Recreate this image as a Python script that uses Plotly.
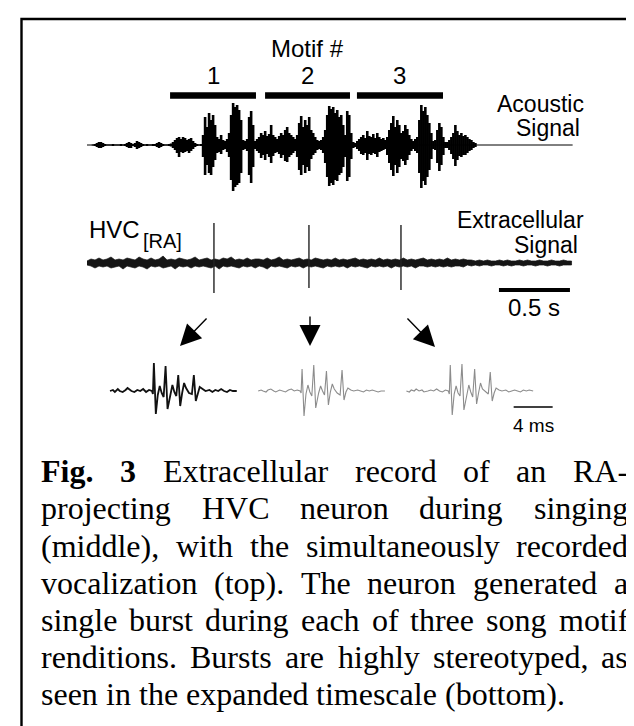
import plotly.graph_objects as go

W, H = 634, 726

# ------------------------------------------------------------------ data
# Acoustic signal, drawn as a min/max waveform (one column per display sample)
acoustic_t0_s = 0.042
acoustic_dt_s = 0.0141
acoustic_duration_s = 3.42
acoustic_max = [0.5, 1, 2, 3, 3, 2, 1, 0.5,
                0.5, 0.5, 1, 0.5, 0.5, 0.5, 1, 0.5,
                1, 2, 3, 2, 1, 2, 4, 3, 2, 1,
                0.5, 1, 0.5, 0.5, 1,
                1, 2, 3, 2, 1,
                0.5, 0.5, 1, 1.5,
                3, 5, 7, 8, 6, 8, 7, 5, 6, 7, 4, 2,
                1, 0.5, 1,
                10, 28, 18, 32, 25, 30, 20,
                8, 6, 10, 5, 4, 6, 12,
                30, 42, 38, 40, 35, 25,
                5, 4, 6,
                28, 34, 20,
                4, 6,
                8, 12, 10, 14, 9, 11, 20, 10, 8, 6, 9, 12, 10, 15, 18, 12, 10, 8, 6,
                10, 22, 29, 18, 25, 20, 28, 15, 12, 8, 5,
                4, 5, 8,
                15, 30, 39, 36, 38, 32, 35, 28, 30, 20, 10,
                34, 30, 12,
                3, 2, 4,
                6, 8, 10, 7, 14, 9, 8, 11, 7, 12, 8, 6, 7, 5,
                8, 15, 22, 29, 18, 25, 20, 12, 14, 20, 16, 10, 6,
                4, 6, 8,
                25, 40, 34, 38, 30, 22, 12,
                4, 5,
                15, 22, 18, 8,
                3, 3, 5,
                8, 12, 20, 14, 10, 12, 9, 10, 8, 6, 5, 3, 2]
acoustic_min = [0.5, 1, 2, 3, 3, 2, 1, 0.5,
                0.5, 0.5, 1, 0.5, 0.5, 0.5, 1, 0.5,
                1, 2, 3, 3, 1, 2, 4, 3, 2, 1,
                0.5, 1, 0.5, 0.5, 1,
                1, 2, 3, 2, 1,
                0.5, 0.5, 1, 1.5,
                3, 5, 8, 12, 7, 8, 7, 6, 8, 6, 4, 2,
                1, 0.5, 1,
                12, 30, 20, 28, 30, 22, 15,
                8, 7, 9, 5, 4, 7, 12,
                35, 46, 42, 40, 38, 28,
                5, 4, 6,
                30, 38, 22,
                4, 6,
                8, 13, 10, 15, 9, 12, 18, 11, 8, 7, 9, 13, 10, 16, 17, 12, 10, 8, 6,
                12, 25, 30, 20, 28, 22, 26, 14, 10, 8, 5,
                4, 5, 8,
                18, 32, 41, 38, 40, 35, 36, 30, 28, 22, 12,
                36, 32, 14,
                3, 2, 4,
                6, 9, 10, 8, 15, 9, 10, 8, 9, 12, 7, 6, 5, 4,
                10, 18, 25, 31, 20, 28, 22, 14, 16, 20, 15, 10, 6,
                4, 6, 8,
                28, 43, 36, 40, 32, 25, 14,
                4, 5,
                18, 26, 20, 10,
                3, 3, 5,
                9, 14, 21, 15, 11, 12, 10, 10, 8, 6, 5, 3, 2]

motif_labels = ["1", "2", "3"]
motif_start_s = [0.585, 1.254, 1.901]
motif_end_s = [1.190, 1.852, 2.507]

# Extracellular signal: noise envelope, upper and lower edge (a.u.), plus spikes
extra_env_dt_s = 0.0282
extra_env_up = [2, 4, 3, 5, 3, 4, 6, 3, 4, 3, 5, 4, 3, 6, 4, 3, 5, 3, 4, 7,
                3, 4, 3, 5, 4, 3, 4, 6, 3, 4, 5, 3, 4, 3, 5, 4, 6, 3, 4, 3,
                5, 3, 4, 4, 3, 5, 3, 4, 6, 3, 4, 3, 4, 5, 3, 4, 3, 5, 4, 3,
                4, 3, 5, 3, 4, 3, 4, 5, 3, 4, 3, 4, 3, 5, 3, 4, 3, 4, 3, 5,
                3, 4, 3, 4, 5, 3, 4, 3, 4, 3, 5, 3, 4, 3, 4, 3, 3, 2, 3, 2,
                3, 2, 2, 3, 2, 3, 2, 2, 3, 2, 3, 2, 2, 3, 2, 2, 3, 2, 2, 3,
                2, 2]
extra_env_down = [2, 3, 5, 3, 4, 3, 5, 4, 3, 6, 3, 4, 5, 3, 4, 6, 3, 4, 3, 5,
                  4, 3, 6, 3, 4, 3, 5, 3, 4, 3, 4, 5, 3, 6, 3, 4, 3, 4, 5, 3,
                  4, 3, 5, 3, 4, 6, 3, 4, 3, 4, 5, 3, 4, 3, 5, 3, 4, 3, 4, 5,
                  3, 4, 3, 4, 3, 5, 3, 4, 3, 4, 5, 3, 4, 3, 4, 3, 5, 3, 4, 3,
                  4, 3, 5, 3, 3, 4, 3, 4, 3, 4, 3, 4, 3, 3, 4, 2, 3, 2, 3, 2,
                  2, 3, 2, 2, 3, 2, 3, 2, 2, 3, 2, 2, 3, 2, 2, 3, 2, 2, 3, 2,
                  2, 2]
spike_times_s = [0.894, 1.563, 2.211]
spike_peak = [40, 38, 38]
spike_trough = [-30, -25, -27]
sec_bar_len_s = 0.5
sec_bar_start_s = 2.901

# Bursts on the expanded timescale (ms)
burst_t_ms = [0.0, 0.3, 0.5, 0.8, 1.0, 1.3, 1.6, 1.8, 2.2, 2.5, 2.8, 3.1, 3.4, 3.7, 4.0,
              4.3, 4.4, 4.5, 4.7, 4.9, 5.1, 5.3, 5.5, 5.7, 5.9, 6.2, 6.4, 6.6, 6.8, 7.0,
              7.2, 7.4, 7.6, 7.8, 8.1, 8.4, 8.6, 8.8, 9.0, 9.2, 9.5, 9.8, 10.2, 10.5, 10.8,
              11.1, 11.4, 11.7, 12.0, 12.3, 12.6, 13.0]
burst_1 = [0, 1, -1, 2, 0, -1, 1, 3, 0, -1, 1, 0, 2, -1, 1, 0, -3, 28, -23, -4, 5, -2, -6, 25, -18,
           -3, 6, -1, -5, 16, -15, -2, 8, 3, -2, -3, 16, -10, -2, 4, 2, 0, 1, -1, 1, 0, 2, 0, -1, 1, 0, 0]
burst_2 = [0, 1, 0, -1, 1, 2, 0, -1, 1, 0, -1, 1, 2, 0, 1, 0, -2, 22, -25, -3, 6, -1, -5, 26, -17,
           -2, 5, 0, -4, 20, -14, -1, 7, 2, -2, -4, 21, -9, -1, 3, 1, 0, 1, 0, -1, 1, 0, 1, 0, -1, 0, 0]
burst_3 = [0, -1, 1, 0, 2, 0, 1, -1, 0, 1, 0, 2, 0, -1, 1, 0, -3, 26, -24, -3, 5, -2, -5, 27, -19,
           -2, 6, -1, -6, 22, -13, -2, 8, 2, -1, -3, 19, -10, -2, 3, 1, 0, 1, -1, 0, 1, 0, -1, 1, 0, 1, 0]
bursts = [burst_1, burst_2, burst_3]
burst_offsets_ms = [0.0, 15.2, 30.4]
burst_colors = ["#111111", "#8c8c8c", "#8c8c8c"]
burst_widths = [1.8, 1.1, 1.1]
ms_bar_len = 4
ms_bar_start = 41.4

caption_lines = [
    "Fig. 3 Extracellular record of an RA-",
    "projecting HVC neuron during singing",
    "(middle), with the simultaneously recorded",
    "vocalization (top). The neuron generated a",
    "single burst during each of three song motif",
    "renditions.  Bursts are highly stereotyped, as",
    "seen in the expanded timescale (bottom).",
]


# ------------------------------------------------------------------ helpers
def fx(px):
    return px / W


def fy(py):
    return 1 - py / H


SANS = "Liberation Sans"
SERIF = "Liberation Serif"

fig = go.Figure()

# acoustic baseline + min/max columns
fig.add_trace(go.Scatter(x=[0, acoustic_duration_s], y=[0, 0], mode="lines",
                         line=dict(color="black", width=1), xaxis="x", yaxis="y"))
ax_x, ax_y = [], []
for i, (u, d) in enumerate(zip(acoustic_max, acoustic_min)):
    t = acoustic_t0_s + i * acoustic_dt_s
    ax_x += [t, t, None]
    ax_y += [u, -d, None]
fig.add_trace(go.Scatter(x=ax_x, y=ax_y, mode="lines",
                         line=dict(color="black", width=2.6), xaxis="x", yaxis="y"))
# motif bars
mx, my = [], []
for s, e in zip(motif_start_s, motif_end_s):
    mx += [s, e, None]
    my += [49.5, 49.5, None]
fig.add_trace(go.Scatter(x=mx, y=my, mode="lines",
                         line=dict(color="black", width=6.5), xaxis="x", yaxis="y"))

# extracellular band
et = [i * extra_env_dt_s for i in range(len(extra_env_up))]
band_x = et + et[::-1]
band_y = list(extra_env_up) + [-v for v in extra_env_down[::-1]]
fig.add_trace(go.Scatter(x=band_x, y=band_y, mode="lines", fill="toself",
                         fillcolor="#151515", line=dict(color="#151515", width=0.7),
                         xaxis="x2", yaxis="y2"))
# spikes
sx, sy = [], []
for t, p, tr in zip(spike_times_s, spike_peak, spike_trough):
    sx += [t, t, None]
    sy += [p, tr, None]
fig.add_trace(go.Scatter(x=sx, y=sy, mode="lines",
                         line=dict(color="#222222", width=1.4), xaxis="x2", yaxis="y2"))
# 0.5 s scale bar
fig.add_trace(go.Scatter(x=[sec_bar_start_s, sec_bar_start_s + sec_bar_len_s], y=[-27, -27],
                         mode="lines", line=dict(color="black", width=4),
                         xaxis="x2", yaxis="y2"))

# bursts + 4 ms scale bar
for vals, off, col, lw in zip(bursts, burst_offsets_ms, burst_colors, burst_widths):
    fig.add_trace(go.Scatter(x=[t + off for t in burst_t_ms], y=vals, mode="lines",
                             line=dict(color=col, width=lw), xaxis="x3", yaxis="y3"))
fig.add_trace(go.Scatter(x=[ms_bar_start, ms_bar_start + ms_bar_len], y=[-16, -16],
                         mode="lines", line=dict(color="black", width=1.6),
                         xaxis="x3", yaxis="y3"))

# ------------------------------------------------------------------ annotations
ann = []


def label(text, x, y, size, xanchor="center", xref="paper", yref="paper", family=SANS):
    ann.append(dict(text=text, x=x, y=y, xref=xref, yref=yref, xanchor=xanchor,
                    yanchor="middle", showarrow=False, borderpad=0, borderwidth=0,
                    font=dict(family=family, size=size, color="black")))


label("Motif #", (motif_start_s[1] + motif_end_s[1]) / 2, 97, 24, xref="x", yref="y")
for lab, s, e in zip(motif_labels, motif_start_s, motif_end_s):
    label(lab, (s + e) / 2, 70, 24, xref="x", yref="y")
label("Acoustic", fx(576), fy(96), 23, xanchor="right")
label("Signal", fx(572), fy(120), 23, xanchor="right")
label("Extracellular", fx(576), fy(212), 23, xanchor="right")
label("Signal", fx(570), fy(237), 23, xanchor="right")
label("HVC", fx(81), fy(221), 24, xanchor="left")
label("[RA]", fx(135), fy(233), 20, xanchor="left")
label("0.5 s", sec_bar_start_s + sec_bar_len_s / 2, fy(300), 24, xref="x2")
label("4 ms", ms_bar_start + ms_bar_len / 2, fy(417), 19, xref="x3")

# arrows from spikes to the expanded bursts (tip position, tail offset in px)
arrows = [((172, 338), (28, -29)), ((302, 338), (0, -31)), ((427, 339), (-29, -30))]
for (tx, ty), (dx, dy) in arrows:
    ann.append(dict(x=fx(tx), y=fy(ty), xref="paper", yref="paper", ax=dx, ay=dy,
                    axref="pixel", ayref="pixel", showarrow=True, arrowhead=2,
                    arrowsize=3.0, arrowwidth=1.4, arrowcolor="black", text=""))

# justified caption (Times metrics)
TIMES = {' ': 250, '(': 333, ')': 333, ',': 250, '-': 333, '.': 250, '3': 500,
         'A': 722, 'B': 667, 'C': 667, 'E': 611, 'F': 556, 'H': 722, 'R': 667, 'T': 611, 'V': 722,
         'a': 444, 'b': 500, 'c': 444, 'd': 500, 'e': 444, 'f': 333, 'g': 500, 'h': 500, 'i': 278,
         'j': 278, 'k': 500, 'l': 278, 'm': 778, 'n': 500, 'o': 500, 'p': 500, 'q': 500, 'r': 333,
         's': 389, 't': 278, 'u': 500, 'v': 500, 'w': 722, 'x': 500, 'y': 500, 'z': 444}
TIMES_BOLD = {'F': 611, 'i': 278, 'g': 500, '.': 250, '3': 500}
CAP_SIZE = 32
CAP_LEFT, CAP_RIGHT = 33, 620
CAP_BASE0, CAP_STEP = 474, 37.2


def tw(s, bold):
    tab = TIMES_BOLD if bold else TIMES
    return sum(tab.get(c, TIMES.get(c, 500)) for c in s) * CAP_SIZE / 1000


for li, line in enumerate(caption_lines):
    words = line.split()
    bold = [li == 0 and wi < 2 for wi in range(len(words))]
    widths = [tw(w, b) for w, b in zip(words, bold)]
    if li < len(caption_lines) - 1:
        gap = (CAP_RIGHT - CAP_LEFT - sum(widths)) / (len(words) - 1)
    else:
        gap = TIMES[' '] * CAP_SIZE / 1000
    x = CAP_LEFT
    yc = CAP_BASE0 + li * CAP_STEP - 0.3375 * CAP_SIZE
    for w, b, wd in zip(words, bold, widths):
        label(f"<b>{w}</b>" if b else w, fx(x), fy(yc), CAP_SIZE, xanchor="left", family=SERIF)
        x += wd + gap

# ------------------------------------------------------------------ layout
shapes = [dict(type="path", xref="paper", yref="paper",
               path=f"M {fx(13.5)},{fy(727)} L {fx(13.5)},{fy(11)} L {fx(636)},{fy(11)}",
               line=dict(color="black", width=2.4))]

hidden = dict(visible=False, fixedrange=True)
fig.update_layout(
    width=W, height=H, margin=dict(l=0, r=0, t=0, b=0),
    paper_bgcolor="white", plot_bgcolor="white", showlegend=False,
    xaxis=dict(domain=[fx(79), fx(565)], range=[0, 3.4225], anchor="y", **hidden),
    yaxis=dict(domain=[fy(184), fy(20)], range=[-47, 117], anchor="x", **hidden),
    xaxis2=dict(domain=[fx(79), fx(565)], range=[0, 3.4225], anchor="y2", **hidden),
    yaxis2=dict(domain=[fy(305), fy(205)], range=[-50, 50], anchor="x2", **hidden),
    xaxis3=dict(domain=[fx(90), fx(600)], range=[-1.2308, 51.077], anchor="y3", **hidden),
    yaxis3=dict(domain=[fy(420), fy(340)], range=[-37, 43], anchor="x3", **hidden),
    annotations=ann,
    shapes=shapes,
)

fig.write_html("out.html", config={"displayModeBar": False})
